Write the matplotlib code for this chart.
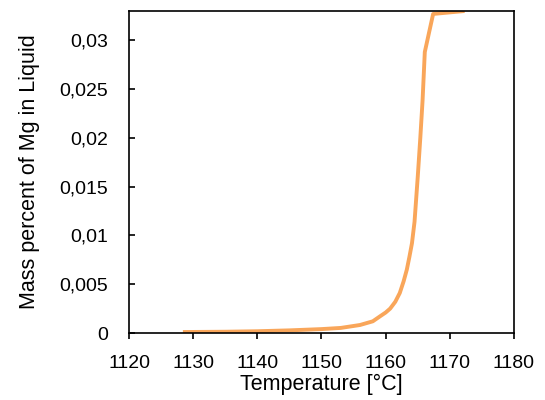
import matplotlib.pyplot as plt
from matplotlib.ticker import FuncFormatter

plt.rcParams['font.family'] = ['Liberation Sans', 'DejaVu Sans']

# temperature [°C] and mass percent of Mg in liquid
temp = [1128.4, 1135, 1140, 1145, 1150, 1153, 1156, 1158, 1159.1, 1160, 1160.7,
        1161.5, 1162.2, 1162.8, 1163.3, 1163.7, 1164.1, 1164.5, 1165.0, 1165.4,
        1165.75, 1166.1, 1167.4, 1172.3]
mg = [0.0001, 0.00013, 0.00018, 0.00027, 0.0004, 0.00052, 0.00082, 0.0012, 0.0017,
      0.0021, 0.0025, 0.0032, 0.0041, 0.0053, 0.0065, 0.0078, 0.0092, 0.0114,
      0.016, 0.020, 0.0238, 0.0288, 0.0327, 0.0330]

xticks = [1120, 1130, 1140, 1150, 1160, 1170, 1180]
yticks = [0, 0.005, 0.01, 0.015, 0.02, 0.025, 0.03]

fig = plt.figure(figsize=(5.45, 4.0), dpi=100)
ax = fig.add_axes([0.2367, 0.1675, 0.7064, 0.805])
ax.plot(temp, mg, color='#F9A65A', lw=2.8, solid_capstyle='butt')

ax.set_xlim(1120, 1180)
ax.set_ylim(0, 0.033)
ax.set_xticks(xticks)
ax.set_yticks(yticks)
ax.yaxis.set_major_formatter(FuncFormatter(lambda v, p: ('%g' % v).replace('.', ',')))
ax.tick_params(axis='x', direction='out', length=4.5, width=1.2, labelsize=14, pad=11)
ax.tick_params(axis='y', direction='in', length=4, width=1.2, labelsize=14, pad=15)
for s in ax.spines.values():
    s.set_linewidth(1.2)

ax.set_xlabel('Temperature [°C]', fontsize=15.5, labelpad=2)
ax.set_ylabel('Mass percent of Mg in Liquid', fontsize=15.5, labelpad=14)

fig.savefig('out.png', dpi=100)
